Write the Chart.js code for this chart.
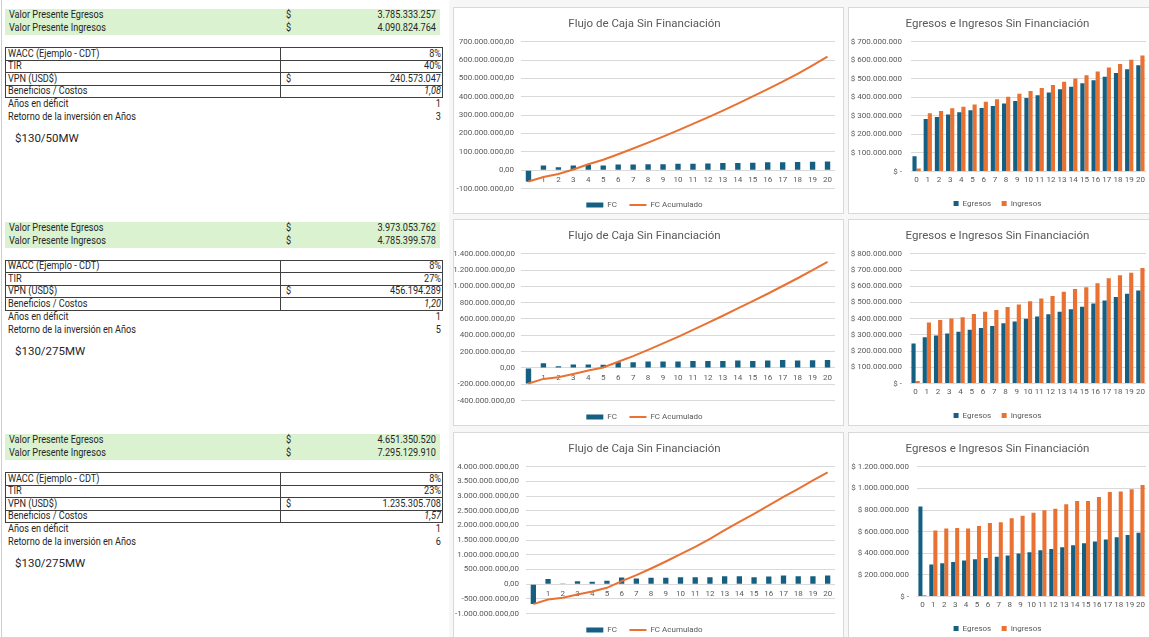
<!DOCTYPE html>
<html><head><meta charset="utf-8">
<script src="https://cdn.jsdelivr.net/npm/chart.js@4.4.1/dist/chart.umd.min.js"></script>
<style>
html,body{margin:0;padding:0;background:#fff;width:1149px;height:637px;overflow:hidden;}
body{position:relative;font-family:Roboto,sans-serif;}
.panel{position:absolute;background:#fff;border:1px solid #d9d9d9;overflow:hidden;}
.panel canvas{position:absolute;left:0;top:0;}
.t{position:absolute;font-family:Roboto,sans-serif;font-size:10.5px;line-height:12px;color:#262626;white-space:nowrap;transform:scaleX(0.87);transform-origin:left center;}
.t.r{text-align:right;transform-origin:right center;}
.box{position:absolute;}
</style>
</head><body>
<div id="left"></div>
<div class="box" style="left:449px;top:0;width:700px;height:637px;background:#f7f7f7"></div>
<div class="panel" style="left:453px;top:7px;width:389px;height:205px"><canvas id="m1" width="389" height="205"></canvas></div>
<div class="panel" style="left:848px;top:7px;width:302px;height:205px"><canvas id="r1" width="302" height="205"></canvas></div>
<div class="panel" style="left:453px;top:219px;width:389px;height:205px"><canvas id="m2" width="389" height="205"></canvas></div>
<div class="panel" style="left:848px;top:219px;width:302px;height:205px"><canvas id="r2" width="302" height="205"></canvas></div>
<div class="panel" style="left:453px;top:432px;width:389px;height:205px"><canvas id="m3" width="389" height="205"></canvas></div>
<div class="panel" style="left:848px;top:432px;width:302px;height:205px"><canvas id="r3" width="302" height="205"></canvas></div>
<script>
// ---------- DATA ----------
const years = ["0","1","2","3","4","5","6","7","8","9","10","11","12","13","14","15","16","17","18","19","20"];

// Flujo de Caja (FC) and FC Acumulado, per scenario
const fc1 = [-62e6,25e6,16e6,25e6,29e6,25e6,31e6,31e6,32e6,32e6,35e6,35e6,36e6,39e6,39e6,40e6,43e6,43e6,44e6,46e6,47e6];
const fcAcum1 = [-62e6,-37e6,-21e6,4e6,32e6,57e6,87e6,118e6,150e6,183e6,217e6,252e6,288e6,325e6,363e6,402e6,442e6,483e6,525e6,571e6,619e6];
const fc2 = [-192e6,57e6,20e6,41e6,41e6,38e6,70e6,70e6,78e6,78e6,80e6,86e6,86e6,86e6,90e6,85e6,90e6,97e6,90e6,95e6,96e6];
const fcAcum2 = [-192e6,-135e6,-115e6,-74e6,-33e6,5e6,75e6,145e6,222e6,300e6,381e6,467e6,553e6,640e6,730e6,820e6,910e6,1005e6,1100e6,1200e6,1300e6];
const fc3 = [-680e6,180e6,23e6,100e6,80e6,114e6,227e6,193e6,216e6,216e6,239e6,239e6,239e6,273e6,273e6,239e6,261e6,295e6,273e6,273e6,295e6];
const fcAcum3 = [-680e6,-523e6,-466e6,-352e6,-250e6,-125e6,102e6,307e6,534e6,773e6,1023e6,1273e6,1545e6,1840e6,2125e6,2398e6,2682e6,2977e6,3250e6,3534e6,3807e6];

// Egresos / Ingresos per scenario
const egr1 = [82e6,283e6,294e6,308e6,320e6,330e6,343e6,353e6,367e6,381e6,397e6,411e6,427e6,444e6,458e6,476e6,493e6,512e6,531e6,552e6,573e6];
const ing1 = [16e6,315e6,327e6,341e6,350e6,362e6,376e6,390e6,404e6,420e6,435e6,451e6,467e6,484e6,502e6,519e6,540e6,561e6,580e6,603e6,626e6];
const egr2 = [246e6,286e6,296e6,308e6,319e6,331e6,343e6,355e6,371e6,383e6,399e6,413e6,427e6,442e6,458e6,474e6,494e6,512e6,534e6,554e6,573e6];
const ing2 = [16e6,377e6,391e6,401e6,409e6,429e6,442e6,454e6,472e6,488e6,508e6,524e6,540e6,566e6,583e6,593e6,619e6,649e6,667e6,683e6,712e6];
const egr3 = [833e6,296e6,308e6,320e6,332e6,344e6,356e6,367e6,379e6,397e6,409e6,427e6,439e6,456e6,474e6,492e6,510e6,527e6,548e6,569e6,590e6];
const ing3 = [12e6,610e6,628e6,634e6,628e6,652e6,681e6,687e6,723e6,747e6,776e6,797e6,812e6,853e6,883e6,883e6,921e6,966e6,972e6,993e6,1031e6];

// Y tick values
const ticksFC1 = [-100e6,0,100e6,200e6,300e6,400e6,500e6,600e6,700e6];
const ticksFC2 = [-400e6,-200e6,0,200e6,400e6,600e6,800e6,1000e6,1200e6,1400e6];
const ticksFC3 = [-1000e6,-500e6,0,500e6,1000e6,1500e6,2000e6,2500e6,3000e6,3500e6,4000e6];
const ticksEI1 = [0,100e6,200e6,300e6,400e6,500e6,600e6,700e6];
const ticksEI2 = [0,100e6,200e6,300e6,400e6,500e6,600e6,700e6,800e6];
const ticksEI3 = [0,200e6,400e6,600e6,800e6,1000e6,1200e6];

// Summary tables (left)
const pvLabels = ["Valor Presente Egresos","Valor Presente Ingresos"];
const pvEgresos = ["3.785.333.257","3.973.053.762","4.651.350.520"];
const pvIngresos = ["4.090.824.764","4.785.399.578","7.295.129.910"];
const tableLabels = ["WACC (Ejemplo - CDT)","TIR","VPN (USD$)","Beneficios / Costos"];
const wacc = ["8%","8%","8%"];
const tir = ["40%","27%","23%"];
const vpn = ["240.573.047","456.194.289","1.235.305.708"];
const benCost = ["1,08","1,20","1,57"];
const extraLabels = ["Años en déficit","Retorno de la inversión en Años"];
const deficit = ["1","1","1"];
const retorno = ["3","5","6"];
const scenario = ["$130/50MW","$130/275MW","$130/275MW"];

// ---------- LEFT TABLES ----------
const left = document.getElementById('left');
function el(html, style, cls){ const d=document.createElement('div'); d.className=cls||'t'; d.innerHTML=html; d.setAttribute('style',style); left.appendChild(d); return d; }
el('', 'left:1px;top:0;width:1px;height:637px;background:#cfcfcf', 'box');
const bases = [0, 212.5, 425];
bases.forEach((b, s) => {
  el('', `left:5px;top:${b+9}px;width:435px;height:26px;background:#daf2d0`, 'box');
  [pvEgresos[s], pvIngresos[s]].forEach((v, i) => {
    const top = b + 9 + i*13;
    el(pvLabels[i], `left:9px;top:${top}px`);
    el('$', `left:286px;top:${top}px`);
    el(v, `left:300px;width:136px;top:${top}px`, 't r');
  });
  el('', `left:5px;top:${b+47}px;width:436px;height:49px;border:1px solid #404040`, 'box');
  for (let k=1;k<4;k++) el('', `left:5px;top:${b+47+k*12.5}px;width:438px;height:1px;background:#404040`, 'box');
  el('', `left:280px;top:${b+47}px;width:1px;height:50px;background:#404040`, 'box');
  const vals = [wacc[s], tir[s], '', benCost[s]];
  tableLabels.forEach((lab, i) => {
    const top = b + 47.5 + i*12.5;
    el(lab, `left:8px;top:${top}px`);
    if (i === 2) { el('$', `left:286px;top:${top}px`); el(vpn[s], `left:300px;width:141px;top:${top}px`, 't r'); }
    else el(vals[i], `left:300px;width:141px;top:${top}px;${i===3?'font-style:italic;':''}`, 't r');
  });
  [deficit[s], retorno[s]].forEach((v, i) => {
    const top = b + 98 + i*13;
    el(extraLabels[i], `left:8px;top:${top}px`);
    el(v, `left:300px;width:141px;top:${top}px`, 't r');
  });
  el(scenario[s], `left:15px;top:${b+131}px;font-size:11.5px;line-height:14px;transform:none`);
});

// ---------- CHARTS ----------
const BLUE = '#156082', ORANGE = '#E97132', GREY = '#595959';
Chart.defaults.font.family = 'Roboto, sans-serif';
Chart.defaults.color = GREY;
function grp(n){ return Math.round(Math.abs(n)).toString().replace(/\B(?=(\d{3})+(?!\d))/g,'.'); }
const fmtFC = v => (v<0?'-':'') + grp(v) + ',00';
const fmtEI = v => v===0 ? '$ -' : '$ ' + grp(v);
const titleOpts = text => ({display:true,text,color:GREY,font:{size:11.5,weight:'normal'},padding:{top:9,bottom:11}});

function fcChart(id, fc, acum, ticks, yW, tPad, padR){
  new Chart(document.getElementById(id), {
    type:'bar',
    data:{labels:years, datasets:[
      {type:'bar',label:'FC',data:fc,backgroundColor:BLUE,borderWidth:0,order:1,categoryPercentage:0.8,barPercentage:0.45,pointStyle:'rect'},
      {type:'line',label:'FC Acumulado',data:acum,borderColor:ORANGE,backgroundColor:ORANGE,borderWidth:2,pointRadius:0,tension:0,order:0,pointStyle:'line'}
    ]},
    options:{
      responsive:false, animation:false,
      layout:{padding:{left:0,right:padR,top:0,bottom:-6}},
      plugins:{
        title:titleOpts('Flujo de Caja Sin Financiación'),
        legend:{position:'bottom',labels:{usePointStyle:true,pointStyleWidth:17,boxHeight:5,padding:12.5,font:{size:8},color:GREY,sort:(a,b)=>a.datasetIndex-b.datasetIndex}},
        tooltip:{enabled:false}
      },
      scales:{
        x:{position:{y:0},grid:{display:false,drawTicks:false},border:{display:false},ticks:{padding:5,font:{size:8},color:GREY,maxRotation:0,autoSkip:false}},
        y:{min:ticks[0],max:ticks[ticks.length-1],ticks:{stepSize:ticks[1]-ticks[0],padding:tPad,font:{size:8},color:GREY,callback:v=>fmtFC(v)},
           grid:{color:'#d9d9d9',drawTicks:false},border:{display:false},afterFit:s=>{s.width=yW;}}
      }
    }
  });
}
function eiChart(id, egr, ing, ticks, yW, tPad, padR){
  new Chart(document.getElementById(id), {
    type:'bar',
    data:{labels:years, datasets:[
      {label:'Egresos',data:egr,backgroundColor:BLUE,borderWidth:0,categoryPercentage:0.74,barPercentage:1},
      {label:'Ingresos',data:ing,backgroundColor:ORANGE,borderWidth:0,categoryPercentage:0.74,barPercentage:1}
    ]},
    options:{
      responsive:false, animation:false,
      layout:{padding:{left:0,right:padR,top:0,bottom:-4.5}},
      plugins:{
        title:titleOpts('Egresos e Ingresos Sin Financiación'),
        legend:{position:'bottom',labels:{boxWidth:5,boxHeight:5,padding:10.4,font:{size:8},color:GREY}},
        tooltip:{enabled:false}
      },
      scales:{
        x:{grid:{display:false,drawTicks:false},border:{display:false},ticks:{padding:4,font:{size:8},color:GREY,maxRotation:0,autoSkip:false}},
        y:{min:ticks[0],max:ticks[ticks.length-1],ticks:{stepSize:ticks[1]-ticks[0],padding:tPad,font:{size:8},color:GREY,callback:v=>fmtEI(v)},
           grid:{color:'#d9d9d9',drawTicks:false},border:{display:false},afterFit:s=>{s.width=yW;}}
      }
    }
  });
}
fcChart('m1', fc1, fcAcum1, ticksFC1, 67, 7, 8);
fcChart('m2', fc2, fcAcum2, ticksFC2, 67, 6, 8);
fcChart('m3', fc3, fcAcum3, ticksFC3, 72, 7, 8);
eiChart('r1', egr1, ing1, ticksEI1, 62, 9, 5);
eiChart('r2', egr2, ing2, ticksEI2, 61, 8, 5);
eiChart('r3', egr3, ing3, ticksEI3, 68, 8, 5);
</script>
</body></html>
